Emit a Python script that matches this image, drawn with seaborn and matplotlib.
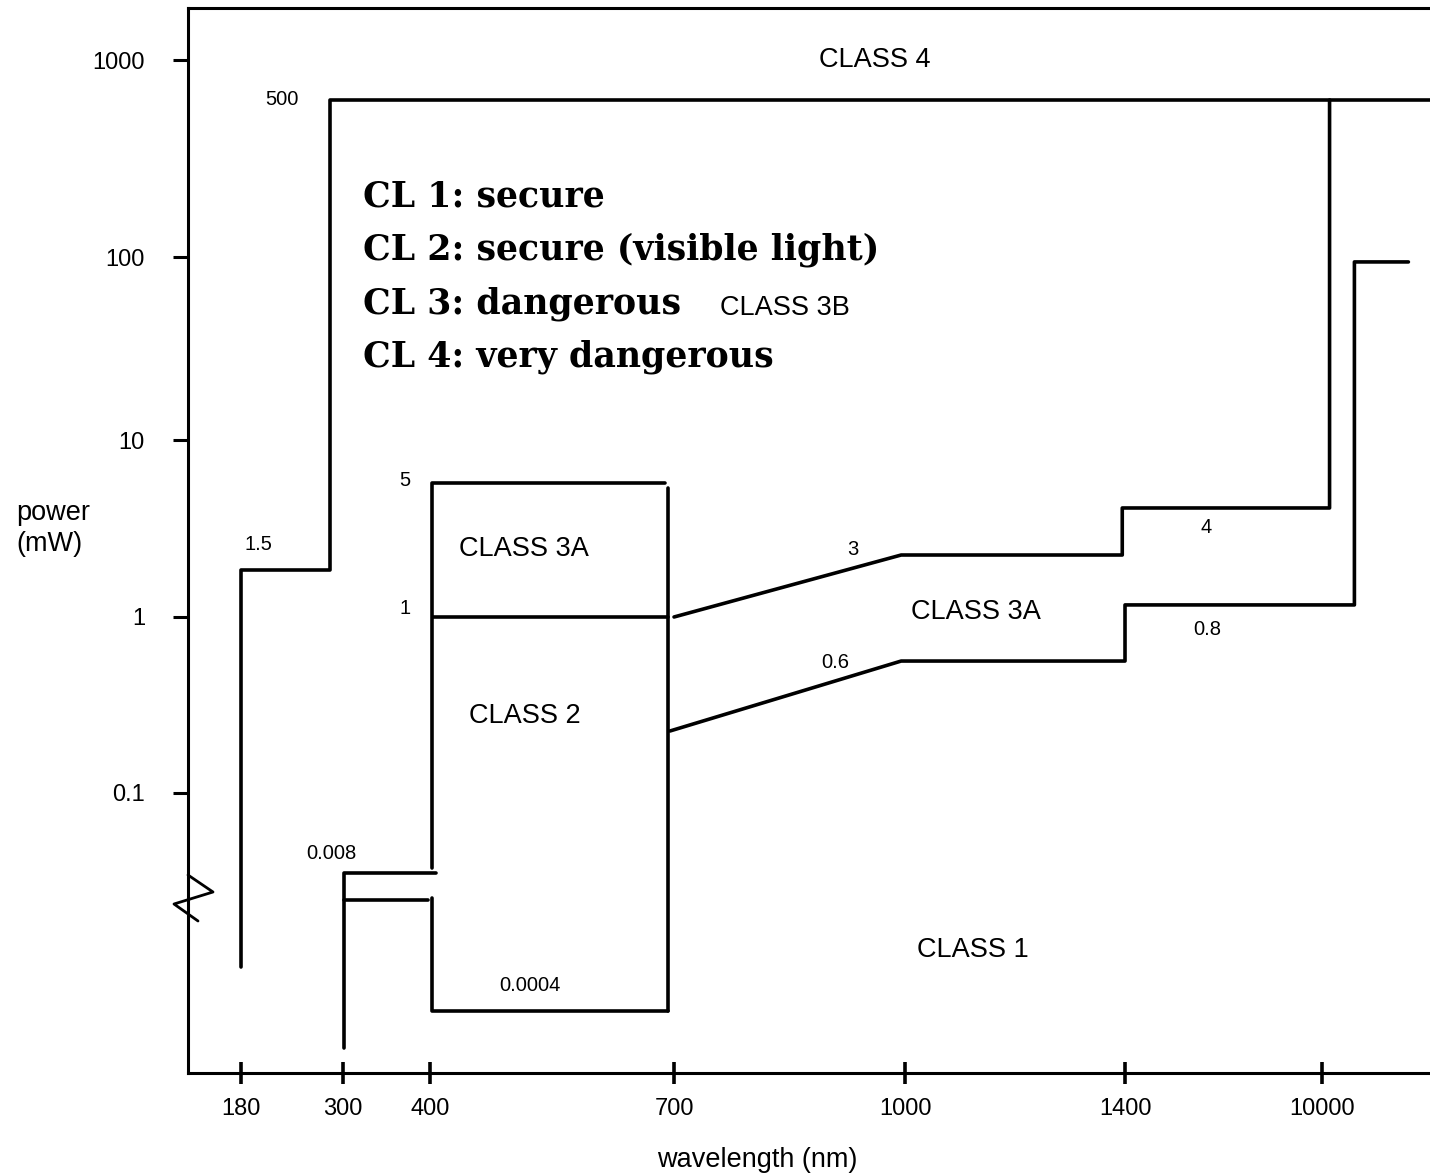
import numpy as np
import pandas as pd
import matplotlib
matplotlib.use("Agg")
import matplotlib.pyplot as plt
import seaborn as sns
from matplotlib.ticker import FixedLocator, FixedFormatter, NullLocator

# ---------------- data ----------------
wl_ticks = [180, 300, 400, 700, 1000, 1400, 10000]
wl_tick_labels = ["180", "300", "400", "700", "1000", "1400", "10000"]
pw_ticks = [0.1, 1, 10, 100, 1000]
pw_tick_labels = ["0.1", "1", "10", "100", "1000"]

# class 4 lower boundary (left part)
c4_left_x = [180, 180, 285, 285, 20000]
c4_left_y = [0.0103, 1.84, 1.84, 627, 627]
# class 4 lower boundary (right part)
c4_right_x = [10700, 10700, 1395, 1395, 995, 700]
c4_right_y = [627, 4.13, 4.13, 2.24, 2.24, 1.0]
# UV steps
uv_a_x = [301, 301, 407]
uv_a_y = [0.00356, 0.0351, 0.0351]
uv_b_x = [301, 398]
uv_b_y = [0.0247, 0.0247]
# visible box
vis_top_x = [402, 402, 689]
vis_top_y = [0.0375, 5.71, 5.71]
vis_right_x = [693, 693]
vis_right_y = [5.36, 0.00577]
vis_low_x = [402, 402, 693]
vis_low_y = [0.0253, 0.00577, 0.00577]
vis_mid_x = [404, 693]
vis_mid_y = [1.0, 1.0]
# class 3A lower boundary (infrared)
ir_x = [695, 995, 1400, 1400, 13000, 13000, 18000]
ir_y = [0.225, 0.562, 0.562, 1.17, 1.17, 94, 94]

segments = {
    "c4_left": (c4_left_x, c4_left_y),
    "c4_right": (c4_right_x, c4_right_y),
    "uv_a": (uv_a_x, uv_a_y),
    "uv_b": (uv_b_x, uv_b_y),
    "vis_top": (vis_top_x, vis_top_y),
    "vis_right": (vis_right_x, vis_right_y),
    "vis_low": (vis_low_x, vis_low_y),
    "vis_mid": (vis_mid_x, vis_mid_y),
    "ir": (ir_x, ir_y),
}
rows = []
for name, (xs, ys) in segments.items():
    for i, (xv, yv) in enumerate(zip(xs, ys)):
        rows.append({"seg": name, "order": i, "wavelength": xv, "power": yv})
df = pd.DataFrame(rows)

# region labels: (text, wavelength, power)
region_labels = [
    ("CLASS 4", 961, 1000),
    ("CLASS 3A", 516, 2.42),
    ("CLASS 2", 517, 0.274),
    ("CLASS 3A", 1129, 1.067),
    ("CLASS 1", 1124, 0.0128),
    ("CLASS 3B", 844, 52.6),
]
value_labels = [
    ("500", 228, 627),
    ("1.5", 201, 2.58),
    ("5", 371, 5.87),
    ("1", 371, 1.11),
    ("0.008", 286, 0.0456),
    ("0.0004", 523, 0.0081),
    ("3", 932, 2.42),
    ("0.6", 909, 0.548),
    ("4", 4936, 3.22),
    ("0.8", 4980, 0.844),
]
legend_lines = ["CL 1: secure", "CL 2: secure (visible light)",
                "CL 3: dangerous", "CL 4: very dangerous"]
legend_power = [204, 108.5, 55.3, 28.4]
legend_wl = 323

# ---------------- scales (piecewise, like the hand-drawn axis) ----------------
XW = [100, 180, 300, 400, 700, 1000, 1400, 10000, 20000]
XP = [173, 241, 343, 430, 674, 905, 1125, 1322, 1430]
YL = [-4, -1, 0, 1, 2, 3, 4]
YP = [-1321, -793, -617, -440, -257, -60, 137]


def fx(x):
    return np.interp(np.asarray(x, dtype=float), XW, XP)


def fxi(p):
    return np.interp(np.asarray(p, dtype=float), XP, XW)


def fy(y):
    y = np.clip(np.asarray(y, dtype=float), 1e-12, None)
    return np.interp(np.log10(y), YL, YP)


def fyi(p):
    return 10 ** np.interp(np.asarray(p, dtype=float), YP, YL)


# ---------------- figure ----------------
sns.set_style("ticks")
plt.rcParams["font.family"] = ["Liberation Sans", "DejaVu Sans"]
plt.rcParams["text.color"] = "black"
plt.rcParams["axes.labelcolor"] = "black"
plt.rcParams["xtick.color"] = "black"
plt.rcParams["ytick.color"] = "black"

W, H = 1430, 1175
fig = plt.figure(figsize=(W / 100, H / 100), dpi=100)
ax = fig.add_axes([188 / W, 1 - 1073 / H, 1242 / W, 1065 / H])
ax.set_xscale("function", functions=(fx, fxi))
ax.set_yscale("function", functions=(fy, fyi))

sns.lineplot(data=df, x="wavelength", y="power", units="seg", estimator=None,
             sort=False, color="black", linewidth=2.6, ax=ax, legend=False)

ax.set_xlim(117.6, 20000)
ax.set_ylim(0.002564, 1837)

ax.xaxis.set_major_locator(FixedLocator(wl_ticks))
ax.xaxis.set_major_formatter(FixedFormatter(wl_tick_labels))
ax.xaxis.set_minor_locator(NullLocator())
ax.yaxis.set_major_locator(FixedLocator(pw_ticks))
ax.yaxis.set_major_formatter(FixedFormatter(pw_tick_labels))
ax.yaxis.set_minor_locator(NullLocator())

ax.tick_params(axis="y", direction="out", length=11, width=2.2, pad=20,
               labelsize=17, colors="black")
ax.tick_params(axis="x", direction="inout", length=16, width=2.6, pad=10,
               labelsize=17, colors="black")

for side in ["left", "bottom", "top"]:
    ax.spines[side].set_linewidth(2.2)
    ax.spines[side].set_color("black")
ax.spines["right"].set_visible(False)

ax.set_xlabel("wavelength (nm)", fontsize=19.5, color="black")
ax.xaxis.set_label_coords(0.458, -0.0817)
ax.xaxis.label.set_va("center")
ax.set_ylabel("power\n(mW)", fontsize=19.5, rotation=0, ha="left", va="center",
              linespacing=1.25, color="black")
ax.yaxis.set_label_coords(-0.1385, 0.5117)

for txt, xv, yv in region_labels:
    ax.text(xv, yv, txt, fontsize=19.5, ha="center", va="center", color="black")
for txt, xv, yv in value_labels:
    ax.text(xv, yv, txt, fontsize=14.5, ha="center", va="center", color="black")
for txt, yv in zip(legend_lines, legend_power):
    ax.text(legend_wl, yv, txt, fontsize=25, fontweight="bold", color="black",
            family=["DejaVu Serif"], ha="left", va="center")

# axis-break zigzag on the left spine
zx = [(188 - 188) / 1242, (213 - 188) / 1242, (174 - 188) / 1242, (198 - 188) / 1242]
zy = [(1073 - 875) / 1065, (1073 - 892) / 1065, (1073 - 904) / 1065, (1073 - 921) / 1065]
ax.plot(zx, zy, color="black", lw=2.0, transform=ax.transAxes, clip_on=False)

fig.savefig("out.png", dpi=100, facecolor="white")
